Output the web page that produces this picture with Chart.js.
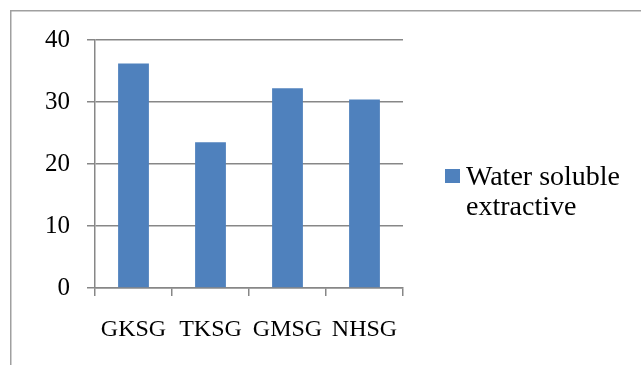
<!DOCTYPE html>
<html>
<head>
<meta charset="utf-8">
<script src="https://cdn.jsdelivr.net/npm/chart.js@4"></script>
<style>
  html, body { margin: 0; padding: 0; background: #ffffff; }
  #wrap { width: 641px; height: 365px; position: relative; }
</style>
</head>
<body>
<div id="wrap"><canvas id="chart" width="641" height="365"></canvas></div>
<script>
// Samples and measured water soluble extractive
const categories = ['GKSG', 'TKSG', 'GMSG', 'NHSG'];
const extractiveValues = [36.2, 23.5, 32.2, 30.4];
const seriesLabel = 'Water soluble extractive';
const legendLines = ['Water soluble', 'extractive'];
const yTicks = [0, 10, 20, 30, 40];

const serif = '"Liberation Serif", "DejaVu Serif", serif';
const barColor = '#4f81bd';
const gridColor = '#878787';

// Outer frame around the chart (runs off the right and bottom edges)
const framePlugin = {
  id: 'frame',
  beforeDraw(chart) {
    const ctx = chart.ctx;
    ctx.save();
    ctx.fillStyle = '#ffffff';
    ctx.fillRect(0, 0, chart.width, chart.height);
    ctx.strokeStyle = '#a0a0a0';
    ctx.lineWidth = 1.5;
    ctx.strokeRect(10.75, 10.75, chart.width + 20, chart.height + 20);
    ctx.restore();
  }
};

// Legend on the right, with the series name wrapped on two lines
const sideLegend = {
  id: 'sideLegend',
  afterDraw(chart) {
    const ctx = chart.ctx;
    const ds = chart.data.datasets[0];
    ctx.save();
    ctx.fillStyle = ds.backgroundColor;
    ctx.fillRect(445, 169, 15, 14);
    ctx.fillStyle = '#000000';
    ctx.font = '28px ' + serif;
    ctx.textBaseline = 'alphabetic';
    ctx.textAlign = 'left';
    legendLines.forEach((line, i) => ctx.fillText(line, 466, 185 + i * 30));
    ctx.restore();
  }
};

new Chart(document.getElementById('chart'), {
  type: 'bar',
  data: {
    labels: categories,
    datasets: [{
      label: seriesLabel,
      data: extractiveValues,
      backgroundColor: barColor,
      borderWidth: 0,
      categoryPercentage: 1.0,
      barPercentage: 0.4
    }]
  },
  options: {
    responsive: false,
    animation: false,
    devicePixelRatio: 1,
    layout: { padding: { left: 0, top: 40, right: 238, bottom: 0 } },
    plugins: {
      legend: { display: false },
      tooltip: { enabled: false }
    },
    scales: {
      x: {
        offset: true,
        grid: {
          offset: true,
          drawOnChartArea: false,
          drawTicks: true,
          tickLength: 8,
          color: gridColor,
          lineWidth: 1.5
        },
        border: { display: true, color: gridColor, width: 1.5 },
        ticks: {
          color: '#000000',
          font: { family: serif, size: 24 },
          padding: 19,
          maxRotation: 0,
          autoSkip: false
        },
        afterFit(scale) { scale.height = 77; }
      },
      y: {
        min: 0,
        max: 40,
        afterBuildTicks(scale) { scale.ticks = yTicks.map(v => ({ value: v })); },
        grid: {
          color: gridColor,
          lineWidth: 1.5,
          drawTicks: true,
          tickLength: 8
        },
        border: { display: true, color: gridColor, width: 1.5 },
        ticks: {
          color: '#000000',
          font: { family: serif, size: 25 },
          padding: 17
        },
        afterFit(scale) { scale.width = 95; }
      }
    }
  },
  plugins: [framePlugin, sideLegend]
});
</script>
</body>
</html>
